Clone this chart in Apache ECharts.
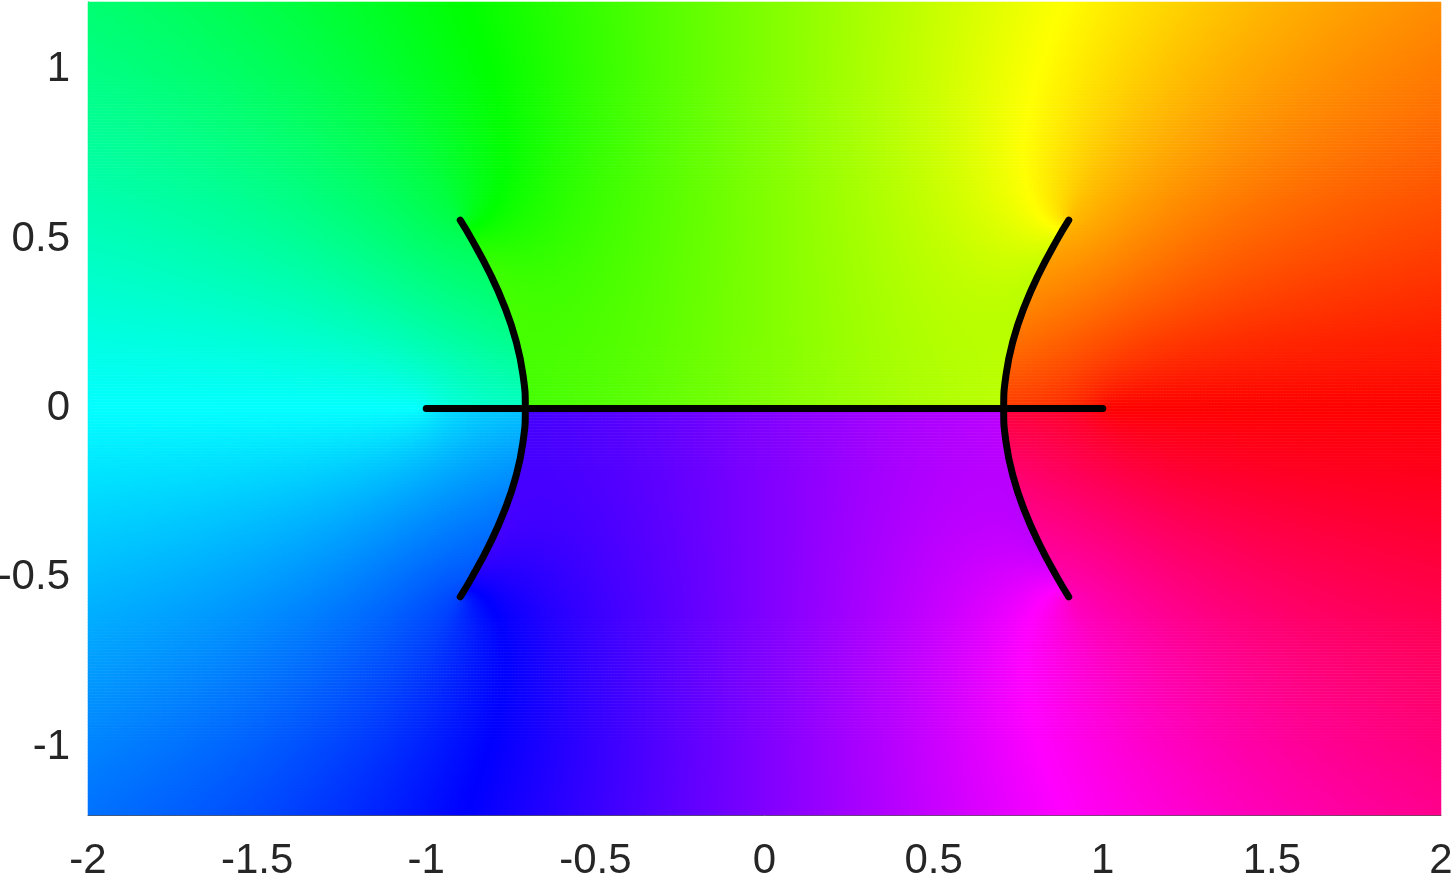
<!DOCTYPE html>
<html><head><meta charset="utf-8">
<script src="https://cdn.jsdelivr.net/npm/echarts@6/dist/echarts.min.js"></script>
<style>html,body{margin:0;padding:0;background:#fff}#c{width:1454px;height:875px}</style>
</head><body><div id="c"></div>
<script>
// ---- chart values ----
const xRange = [-2, 2];
const yRange = [-1.2, 1.2];
const xTicks = [-2, -1.5, -1, -0.5, 0, 0.5, 1, 1.5, 2];
const yTicks = [-1, -0.5, 0, 0.5, 1];
const segmentX = [-1, 1];          // black segment on the real axis
const segmentY = [0, 0];
const arcY      = [-0.556, -0.5, -0.4, -0.3, -0.2, -0.1, 0, 0.1, 0.2, 0.3, 0.4, 0.5, 0.556];
const arcRightX = [0.8995, 0.866, 0.8124, 0.7681, 0.7348, 0.7141, 0.7071, 0.7141, 0.7348, 0.7681, 0.8124, 0.866, 0.8995];
const hueStops = ['#ff0000', '#ffff00', '#00ff00', '#00ffff', '#0000ff', '#ff00ff', '#ff0000'];
const NX = 451, NY = 270;

// ---- complex phase field ----
function cmul(a, b) { return [a[0]*b[0]-a[1]*b[1], a[0]*b[1]+a[1]*b[0]]; }
function cdiv(a, b) { const d = b[0]*b[0]+b[1]*b[1]; return [(a[0]*b[0]+a[1]*b[1])/d, (a[1]*b[0]-a[0]*b[1])/d]; }
function csqrt(a) {
  const r = Math.hypot(a[0], a[1]);
  const re = Math.sqrt(Math.max(0, (r + a[0]) / 2));
  let im = Math.sqrt(Math.max(0, (r - a[0]) / 2));
  if (a[1] < 0) im = -im;
  return [re, im];
}
function phase(x, y) {
  const z = [x, y];
  const s1 = cmul(csqrt([x - 1, y]), csqrt([x + 1, y]));
  const z2 = cmul(z, z);
  const v = [z2[0] - 0.5, z2[1]];
  const iv2 = cdiv([1, 0], cmul(v, v));
  const t = cmul(v, csqrt([1 + iv2[0], iv2[1]]));
  const d = [t[0] - v[0], t[1] - v[1]];
  const K = Math.exp(-1.4 * d[0]);
  const phi = 0.934 * d[1] * Math.min(0, d[0]);
  const w = cmul([K * Math.cos(phi), K * Math.sin(phi)], s1);
  const f = [x + w[0], y + w[1]];
  let h = Math.atan2(f[1], f[0]) * 180 / Math.PI;
  if (h < 0) h += 360;
  return h;
}

const xCats = [], yCats = [], cells = [];
for (let i = 0; i < NX; i++) xCats.push(i);
for (let j = 0; j < NY; j++) yCats.push(j);
for (let i = 0; i < NX; i++) {
  const x = xRange[0] + (i + 0.5) * (xRange[1] - xRange[0]) / NX;
  for (let j = 0; j < NY; j++) {
    const y = yRange[0] + (j + 0.5) * (yRange[1] - yRange[0]) / NY;
    cells.push([i, j, phase(x, y)]);
  }
}
const arcRight = arcY.map((y, k) => [arcRightX[k], y]);
const arcLeft = arcY.map((y, k) => [-arcRightX[k], y]);
const segment = segmentX.map((x, k) => [x, segmentY[k]]);

const chart = echarts.init(document.getElementById('c'), null, { renderer: 'canvas' });
const labelFont = { fontFamily: 'Liberation Sans, Arial, sans-serif', fontSize: 42, color: '#262626' };
const lineStyle = { color: '#000', width: 7, cap: 'round', join: 'round' };
chart.setOption({
  animation: false,
  grid: { left: 88, right: 13, top: 2, bottom: 60, containLabel: false, outerBoundsMode: 'none' },
  visualMap: { show: false, type: 'continuous', min: 0, max: 360, dimension: 2, seriesIndex: 0, inRange: { color: hueStops } },
  xAxis: [
    { type: 'category', data: xCats, show: false },
    { type: 'value', min: xRange[0], max: xRange[1], interval: 0.5, position: 'bottom',
      axisLine: { show: true, onZero: false, lineStyle: { color: '#555', width: 1 } },
      axisTick: { show: false }, splitLine: { show: false },
      axisLabel: Object.assign({ margin: 25, showMinLabel: true, showMaxLabel: true }, labelFont) }
  ],
  yAxis: [
    { type: 'category', data: yCats, show: false },
    { type: 'value', min: yRange[0], max: yRange[1], position: 'left',
      axisLine: { show: true, onZero: false, lineStyle: { color: '#555', width: 1 } },
      axisTick: { show: false }, splitLine: { show: false },
      axisLabel: Object.assign({ margin: 18, customValues: yTicks }, labelFont) }
  ],
  series: [
    { type: 'heatmap', xAxisIndex: 0, yAxisIndex: 0, data: cells, progressive: 0, emphasis: { disabled: true }, itemStyle: { borderWidth: 0 } },
    { type: 'line', xAxisIndex: 1, yAxisIndex: 1, data: segment, symbol: 'none', lineStyle: lineStyle, z: 5 },
    { type: 'line', xAxisIndex: 1, yAxisIndex: 1, data: arcRight, symbol: 'none', smooth: true, lineStyle: lineStyle, z: 5 },
    { type: 'line', xAxisIndex: 1, yAxisIndex: 1, data: arcLeft, symbol: 'none', smooth: true, lineStyle: lineStyle, z: 5 }
  ]
});
</script></body></html>
